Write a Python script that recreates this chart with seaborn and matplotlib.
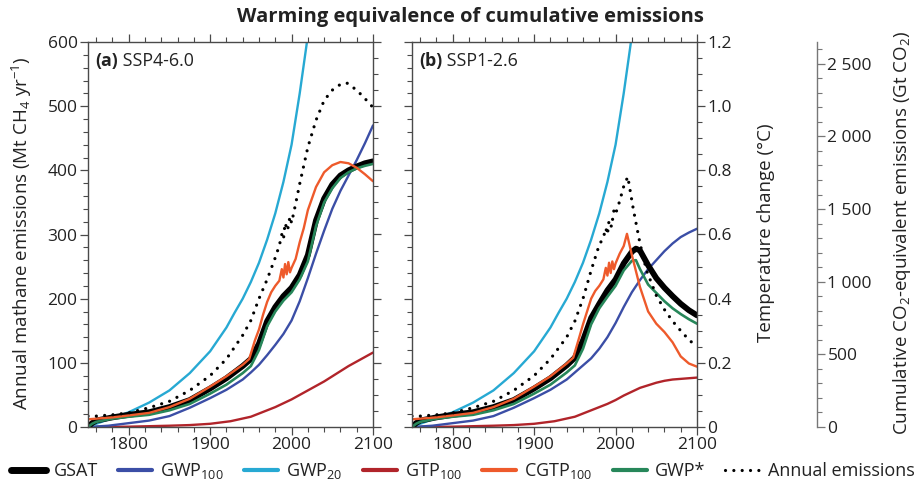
import numpy as np
import pandas as pd
import matplotlib
matplotlib.use("Agg")
import matplotlib.pyplot as plt
from matplotlib.lines import Line2D
from matplotlib.ticker import MultipleLocator, FixedLocator, FuncFormatter
import seaborn as sns

# ---------------- data (values in Mt CH4 yr-1 equivalent, left axis scale) ----------------
XTICKS = [1800, 1900, 2000, 2100]

# Panel (a) SSP4-6.0
A_GSAT_YR = [1750,1755,1760,1780,1800,1825,1850,1875,1900,1920,1940,1950,1960,1970,1980,1990,2000,2010,2020,2030,2040,2050,2060,2070,2080,2090,2100]
A_GSAT    = [0,6,10,15,19,23,31,42,60,76,95,106,130,165,187,204,217,237,268,322,356,378,392,400,406,411,414]
A_GWPS    = [0,5,8,13,16,19,26,36,52,66,84,95,120,157,180,197,210,230,258,313,350,372,388,397,403,407,410]

A_CGTP_YR = [1750,1760,1780,1800,1825,1850,1875,1900,1920,1940,1948,1955,1960,1965,1970,1975,1980,1985,1988,1990,
             1992,1994,1996,1998,2000,2005,2010,2015,2020,2030,2040,2050,2060,2070,2080,2090,2100]
A_CGTP    = [12,13,15,18,22,31,44,63,79,97,106,135,152,175,195,210,220,228,246,233,
             254,238,257,241,248,262,288,310,338,374,397,408,413,411,404,394,383]

A_GWP100_YR = [1750,1775,1800,1825,1850,1875,1900,1920,1940,1950,1960,1970,1980,1990,2000,2010,2020,2030,2040,2050,2060,2070,2080,2090,2100]
A_GWP100    = [0,2,6,10,17,30,45,58,74,85,97,112,128,145,166,196,232,270,306,340,368,392,416,442,470]

A_GWP20_YR = [1750,1760,1780,1800,1825,1850,1875,1900,1920,1930,1940,1950,1960,1970,1980,1990,2000,2010,2020,2030]
A_GWP20    = [0,5,14,23,38,57,84,118,155,178,200,226,256,292,333,382,440,520,610,700]

A_GTP100_YR = [1750,1800,1850,1875,1900,1925,1950,1960,1970,1980,1990,2000,2010,2020,2030,2040,2050,2060,2070,2080,2090,2100]
A_GTP100    = [0,0.5,2,3,5,9,16,21,26,31,37,43,50,57,64,71,79,87,95,102,109,116]

A_ANN_YR = [1750,1760,1780,1800,1825,1850,1875,1900,1920,1940,1950,1960,1970,1980,1985,1988,1990,1992,1995,1998,
            2000,2005,2010,2020,2030,2040,2050,2060,2068,2080,2090,2100]
A_ANN    = [17,17,19,22,30,40,57,80,106,143,166,200,230,264,283,300,292,318,306,328,
            318,348,379,436,478,509,525,534,536,525,512,498]

# Panel (b) SSP1-2.6
B_GSAT_YR = [1750,1755,1760,1780,1800,1825,1850,1875,1900,1920,1940,1950,1960,1970,1980,1990,2000,2010,2020,2025,2030,2040,2050,2060,2070,2080,2090,2100]
B_GSAT    = [0,6,10,15,19,23,31,42,60,76,96,108,135,170,192,213,230,255,273,278,275,252,232,217,204,192,182,174]
B_GWPS    = [0,5,8,13,16,19,26,36,52,66,85,96,122,160,185,203,220,244,259,260,246,222,209,196,185,176,168,161]

B_CGTP_YR = [1750,1760,1780,1800,1825,1850,1875,1900,1920,1940,1948,1955,1960,1965,1970,1975,1980,1985,1988,1990,
             1992,1994,1996,1998,2000,2005,2010,2014,2020,2030,2040,2050,2060,2070,2080,2090,2100]
B_CGTP    = [12,13,15,18,22,31,44,63,79,99,108,138,160,180,200,212,220,230,248,236,
             256,240,258,246,255,270,282,301,268,218,180,161,148,132,110,99,94]

B_GWP100_YR = [1750,1775,1800,1825,1850,1875,1900,1920,1940,1950,1960,1970,1980,1990,2000,2010,2020,2030,2040,2050,2060,2070,2080,2090,2100]
B_GWP100    = [0,2,6,10,17,30,45,58,74,85,96,107,122,140,162,187,210,229,246,260,274,286,296,303,309]

B_GWP20_YR = [1750,1760,1780,1800,1825,1850,1875,1900,1920,1930,1940,1950,1960,1970,1980,1990,2000,2010,2020,2030]
B_GWP20    = [0,5,14,23,38,57,84,118,155,178,200,226,256,292,333,382,440,520,610,700]

B_GTP100_YR = [1750,1800,1850,1875,1900,1925,1950,1960,1970,1980,1990,2000,2010,2020,2030,2040,2050,2060,2070,2080,2090,2100]
B_GTP100    = [0,0.5,2,3,5,9,16,21,26,31,36,42,49,55,61,65,69,72,74,75,76,77]

B_ANN_YR = [1750,1760,1780,1800,1825,1850,1875,1900,1920,1940,1950,1960,1970,1980,1985,1988,1990,1992,1995,1998,
            2000,2005,2010,2015,2022,2030,2038,2050,2060,2070,2080,2090,2100]
B_ANN    = [17,17,19,22,30,40,57,80,106,140,165,200,244,284,295,310,300,322,312,338,
            332,352,375,390,338,286,244,205,183,165,150,136,125]

SERIES_ORDER = ["GTP100", "GWP100", "GWP20", "GSAT", "GWP*", "CGTP100", "Annual emissions"]
LABELS = {"GSAT": "GSAT", "GWP100": "GWP$_{100}$", "GWP20": "GWP$_{20}$", "GTP100": "GTP$_{100}$",
          "CGTP100": "CGTP$_{100}$", "GWP*": "GWP*", "Annual emissions": "Annual emissions"}
LEGEND_ORDER = ["GSAT", "GWP100", "GWP20", "GTP100", "CGTP100", "GWP*", "Annual emissions"]

COLORS = {"GSAT": "#000000", "GWP100": "#3b4ea6", "GWP20": "#27a9d3", "GTP100": "#b1242a",
          "CGTP100": "#ee5a2b", "GWP*": "#27875a", "Annual emissions": "#000000"}
WIDTHS = {"GSAT": 4.2, "GWP100": 1.7, "GWP20": 1.7, "GTP100": 1.7, "CGTP100": 1.7, "GWP*": 1.9,
          "Annual emissions": 2.3}
DOT = (0, (0.01, 2.6))


def panel_frame(d):
    rows = []
    for name, (yrs, vals) in d.items():
        for y, v in zip(yrs, vals):
            rows.append((name, y, v))
    return pd.DataFrame(rows, columns=["series", "year", "value"])


PANEL_A = panel_frame({
    "GSAT": (A_GSAT_YR, A_GSAT), "GWP*": (A_GSAT_YR, A_GWPS), "CGTP100": (A_CGTP_YR, A_CGTP),
    "GWP100": (A_GWP100_YR, A_GWP100), "GWP20": (A_GWP20_YR, A_GWP20), "GTP100": (A_GTP100_YR, A_GTP100),
    "Annual emissions": (A_ANN_YR, A_ANN)})
PANEL_B = panel_frame({
    "GSAT": (B_GSAT_YR, B_GSAT), "GWP*": (B_GSAT_YR, B_GWPS), "CGTP100": (B_CGTP_YR, B_CGTP),
    "GWP100": (B_GWP100_YR, B_GWP100), "GWP20": (B_GWP20_YR, B_GWP20), "GTP100": (B_GTP100_YR, B_GTP100),
    "Annual emissions": (B_ANN_YR, B_ANN)})

# ---------------- style ----------------
sns.set_style("ticks")
FONT = "Open Sans"
plt.rcParams["font.family"] = [FONT, "DejaVu Sans"]
plt.rcParams["mathtext.fontset"] = "custom"
plt.rcParams["mathtext.rm"] = FONT
plt.rcParams["mathtext.it"] = FONT + ":italic"
plt.rcParams["mathtext.bf"] = FONT + ":bold"
AXC = "#4a4a4a"
TXT = "#222222"
TICK_FS = 12.5
LABEL_FS = 13.5
LEG_FS = 13
PANEL_FS = 12.8
TITLE_FS = 14.5

fig = plt.figure(figsize=(9.14, 4.92), dpi=100)
H = 385 / 492
B0 = 1 - 427 / 492
axa = fig.add_axes([88 / 914, B0, 285 / 914, H])
axb = fig.add_axes([412 / 914, B0, 285 / 914, H])


def style_main(ax, data, show_labels):
    for name in SERIES_ORDER:
        s = data[data.series == name]
        extra = {"dash_capstyle": "round"} if name == "Annual emissions" else {}
        sns.lineplot(data=s, x="year", y="value", ax=ax, color=COLORS[name], lw=WIDTHS[name],
                     linestyle=DOT if name == "Annual emissions" else "-", legend=False,
                     estimator=None, sort=False, **extra)
    ax.set_xlim(1750, 2100)
    ax.set_ylim(0, 600)
    ax.set_xlabel("")
    ax.set_ylabel("")
    ax.xaxis.set_major_locator(FixedLocator(XTICKS))
    ax.xaxis.set_minor_locator(MultipleLocator(20))
    ax.yaxis.set_major_locator(MultipleLocator(100))
    ax.yaxis.set_minor_locator(MultipleLocator(20))
    ax.tick_params(which="both", direction="out", top=True, colors=AXC, labelcolor=TXT, labelsize=TICK_FS)
    ax.tick_params(which="major", length=5.5, width=0.9)
    ax.tick_params(which="minor", length=3.5, width=0.8)
    ax.tick_params(axis="x", pad=2)
    ax.tick_params(axis="y", pad=2)
    if not show_labels:
        ax.tick_params(axis="y", labelleft=False)
    for sp in ax.spines.values():
        sp.set_color(AXC)
        sp.set_linewidth(1.0)
        sp.set_visible(True)


style_main(axa, PANEL_A, True)
style_main(axb, PANEL_B, False)


def temp_axis(ax, labels):
    t = ax.twinx()
    t.set_ylim(0, 1.2)
    t.yaxis.set_major_locator(MultipleLocator(0.2))
    t.yaxis.set_minor_locator(MultipleLocator(0.05))
    t.tick_params(which="both", direction="out", colors=AXC, labelcolor=TXT, labelsize=TICK_FS, pad=2)
    t.tick_params(which="major", length=5.5, width=0.9)
    t.tick_params(which="minor", length=3.5, width=0.8)
    t.yaxis.set_major_formatter(FuncFormatter(lambda v, p: "0" if abs(v) < 1e-9 else f"{v:.1f}"))
    if not labels:
        t.tick_params(labelright=False)
    for sp in t.spines.values():
        sp.set_visible(False)
    return t


temp_axis(axa, False)
temp_axis(axb, True)

# Cumulative CO2-equivalent axis
c = axb.twinx()
c.set_ylim(0, 2650)
for k, sp in c.spines.items():
    sp.set_visible(k == "right")
c.spines["right"].set_position(("axes", (817 - 412) / 285))
c.spines["right"].set_color("#777777")
c.spines["right"].set_linewidth(1.0)
c.yaxis.set_major_locator(MultipleLocator(500))
c.yaxis.set_minor_locator(MultipleLocator(100))
c.yaxis.set_major_formatter(FuncFormatter(lambda v, p: f"{int(v):,}".replace(",", " ")))
c.tick_params(which="both", direction="out", colors="#777777", labelcolor=TXT, labelsize=TICK_FS, pad=2)
c.tick_params(which="major", length=5.5, width=0.9)
c.tick_params(which="minor", length=3.5, width=0.8)

# Panel labels
for ax, tag, name in [(axa, "(a)", " SSP4-6.0"), (axb, "(b)", " SSP1-2.6")]:
    t = ax.text(0.025, 0.975, tag, transform=ax.transAxes, fontsize=PANEL_FS, fontweight="bold",
                va="top", ha="left", color=TXT)
    ax.annotate(name, xy=(1, 0), xycoords=t, va="bottom", ha="left", fontsize=PANEL_FS, color=TXT)

# Axis labels
fig.text(22 / 914, 1 - 233 / 492, "Annual mathane emissions (Mt CH$_4$ yr$^{-1}$)", rotation=90,
         ha="center", va="center", fontsize=LABEL_FS, color=TXT)
fig.text(766 / 914, 1 - 233 / 492, "Temperature change (°C)", rotation=90,
         ha="center", va="center", fontsize=LABEL_FS, color=TXT)
fig.text(902 / 914, 1 - 233 / 492, "Cumulative CO$_2$-equivalent emissions (Gt CO$_2$)", rotation=90,
         ha="center", va="center", fontsize=LABEL_FS, color=TXT)

fig.text(470 / 914, 1 - 17 / 492, "Warming equivalence of cumulative emissions", ha="center", va="center",
         fontsize=TITLE_FS, fontweight="bold", color=TXT)

handles = []
for n in LEGEND_ORDER:
    if n == "Annual emissions":
        handles.append(Line2D([], [], color=COLORS[n], lw=2.3, linestyle=DOT, dash_capstyle="round"))
    else:
        handles.append(Line2D([], [], color=COLORS[n], lw=5 if n == "GSAT" else 3))
fig.legend(handles, [LABELS[n] for n in LEGEND_ORDER], loc="center", bbox_to_anchor=(463 / 914, 1 - 471 / 492),
           ncol=7, frameon=False, fontsize=LEG_FS, handlelength=1.9, handletextpad=0.45, columnspacing=1.1,
           labelcolor=TXT)

fig.savefig("out.png", dpi=100)
